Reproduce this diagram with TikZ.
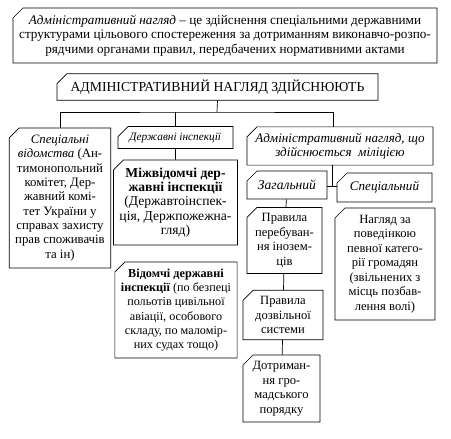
\documentclass[tikz,border=0pt]{standalone}
\usepackage{fontspec}
\setmainfont{Liberation Serif}
\usetikzlibrary{shapes.misc}

\begin{document}
\begin{tikzpicture}[x=1pt, y=-1pt, line width=.7pt,
  box/.style={draw, chamfered rectangle, chamfered rectangle corners=north west,
    chamfered rectangle xsep=5pt, chamfered rectangle ysep=5pt,
    align=center, inner sep=1pt, font=\fontsize{12.6}{14.5}\selectfont},
  fs/.style={font=\fontsize{#1}{14.3}\selectfont}]

\useasboundingbox (0,0) rectangle (451,439);

\node[box, fs=13.2, minimum width=424pt, minimum height=55pt] (def) at (225,35.5)
  {\textit{Адміністративний нагляд} – це здійснення спеціальними державними\\
   структурами цільового спостереження за дотриманням виконавчо-розпо-\\
   рядчими органами правил, передбачених нормативними актами};
\node[box, fs=13.7, minimum width=321pt, minimum height=26pt] (head) at (217.5,87)
  {АДМІНІСТРАТИВНИЙ НАГЛЯД ЗДІЙСНЮЮТЬ};

\node[box, fs=12.8, minimum width=100pt, minimum height=140pt] (spec) at (60,198)
  {\textit{Спеціальні}\\ \textit{відомства} (Ан-\\тимонопольний\\комітет, Дер-\\жавний комі-\\тет України у\\справах захисту\\прав споживачів\\та ін)};

\node[box, fs=11.3, minimum width=115pt, minimum height=21pt] (insp) at (175.5,137.5)
  {\textit{Державні інспекції}};
\node[box, fs=13.6, minimum width=115pt, minimum height=85pt] (inter) at (175.5,202.5)
  {\textbf{Міжвідомчі дер-}\\ \textbf{жавні інспекції}\\(Державтоінспек-\\ція, Держпожежна-\\гляд)};
\node[box, fs=12.2, minimum width=116pt, minimum height=96pt] (dept) at (176,310)
  {\textbf{Відомчі державні}\\ \textbf{інспекції} (по безпеці\\польотів цивільної\\авіації, особового\\складу, по маломір-\\них судах тощо)};

\node[box, fs=13.1, minimum width=186pt, minimum height=38pt] (mil) at (340,146)
  {\textit{Адміністративний нагляд, що}\\ \textit{здійснюється \ міліцією}};
\node[box, fs=13.6, minimum width=80pt, minimum height=28pt] (gen) at (287,185)
  {\textit{Загальний}};
\node[box, fs=13.1, minimum width=95pt, minimum height=29pt] (spc) at (384.5,187.5)
  {\textit{Спеціальний}};
\node[box, minimum width=75pt, minimum height=65pt] (stay) at (284.5,240.5)
  {Правила\\перебуван-\\ня інозем-\\ців};
\node[box, minimum width=80pt, minimum height=46pt] (perm) at (283,315)
  {Правила\\дозвільної\\системи};
\node[box, minimum width=77pt, minimum height=67pt] (order) at (281.5,388.5)
  {Дотриман-\\ня гро-\\мадського\\порядку};
\node[box, minimum width=100pt, minimum height=112pt] (obs) at (385,264)
  {Нагляд за\\поведінкою\\певної катего-\\рії громадян\\(звільнених з\\місць позбав-\\лення волі)};

\coordinate (bar) at (217,112);
\draw (head.south) -- (bar);
\draw (spec.north) |- (bar) -| ([xshift=-7pt]mil.north);
\draw (insp.north) -- (insp.north |- bar);
\draw (insp) -- (inter);
\coordinate (fork) at (332,186);
\draw ([xshift=-8pt]mil.south) -- (fork);
\draw (gen.east |- fork) -- (spc.west |- fork);
\draw (gen) -- (stay);
\draw (stay) -- (perm);
\draw (perm) -- (order);

\end{tikzpicture}
\end{document}
